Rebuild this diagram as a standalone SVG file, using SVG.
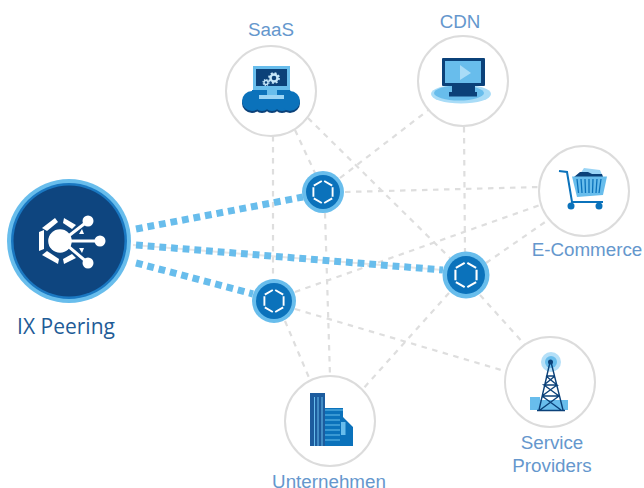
<svg xmlns="http://www.w3.org/2000/svg" width="644" height="488" viewBox="0 0 644 488">
<style>
.ring{fill:#fff;stroke:#dcdcdc;stroke-width:2}
.dash{fill:none;stroke:#dedede;stroke-width:2.2;stroke-dasharray:5.500 5.500}
.thick{fill:none;stroke:#68bdec;stroke-width:7;stroke-dasharray:6.800 4.900}
.under{fill:none;stroke:#e6e6e6;stroke-width:2}
.lab{font-family:"Liberation Sans",Arial,sans-serif;font-size:18.8px;fill:#6597cd;text-anchor:middle}
.ix{font-family:"Open Sans","Noto Sans",sans-serif;font-size:21px;fill:#1f5c97;text-anchor:middle}
.hubo{fill:#68bdec}.hubi{fill:#0b72bb}
.hex{fill:none;stroke:#fff;stroke-width:1.900}
.dark{fill:#0b4179}.mid{fill:#0b72bb}.light{fill:#68bdec}
.gear{fill:none;stroke:#c5e6f9}
</style>
<defs>
<g id="hexicon">
<path class="hex" d="M-1.200 -11L-9.200 -6.400M1.200 -11L9.200 -6.400M9.600 -4.800V4.800M9.200 6.400L1.200 11M-1.200 11L-9.200 6.400M-9.600 4.800V-4.800"/>
</g>
<g id="cloud">
<circle cx="252" cy="101" r="10"/><circle cx="262" cy="103" r="8"/><circle cx="272" cy="103" r="8"/><circle cx="282" cy="103" r="8"/><circle cx="290" cy="101" r="10"/>
<circle cx="258" cy="94" r="6.500"/><circle cx="285" cy="94" r="6.500"/><rect x="252" y="90" width="38" height="18"/>
</g>
</defs>
<g id="connectors">
<path class="dash" d="M273 136V280"/>
<path class="dash" d="M295 130L315 173"/>
<path class="dash" d="M308 118L450 258"/>
<path class="dash" d="M340 178L431 108"/>
<path class="dash" d="M345 192L540 187"/>
<path class="dash" d="M325 213L330 376"/>
<path class="dash" d="M464 127L465 252"/>
<path class="dash" d="M486 263L548 220"/>
<path class="dash" d="M295 292L540 205"/>
<path class="dash" d="M480 295L526 346"/>
<path class="dash" d="M449 293L362 390"/>
<path class="dash" d="M285 321L310 380"/>
<path class="dash" d="M295 309L508 372"/>
<path class="under" d="M133 245L443 270"/>
<path class="thick" d="M136 229L303 197"/>
<path class="thick" d="M136 245L443 270"/>
<path class="thick" d="M136 263L253 294"/>
</g>
<g id="ix-peering">
<circle cx="69" cy="241" r="62" fill="#68bdec"/>
<circle cx="69" cy="241" r="58" fill="#1a78c2"/>
<circle cx="69" cy="241" r="55.500" fill="#0e457f"/>
<circle cx="60" cy="241" r="11.800" fill="#fff"/>
<g stroke="#fff" stroke-width="3" fill="none"><path d="M62 241L88 221M62 241H100M62 241L88 263"/></g>
<g fill="#fff">
<circle cx="88" cy="221" r="5.500"/><circle cx="100" cy="241" r="5.500"/><circle cx="88" cy="263" r="5.500"/>
<path d="M39 232L44 230V249L39 251Z"/>
<path d="M42 228L55 218L58 222L47 231Z"/>
<path d="M64 218L76 225L72 229L63 223Z"/>
<path d="M42 255L47 251L59 259L58 264Z"/>
<path d="M64 264L63 259L72 254L76 258Z"/>
<path d="M79 234L84 234L82 229Z"/><path d="M79 248L84 248L82 253Z"/>
</g>
<text class="ix" x="66" y="334">IX Peering</text>
</g>
<g id="saas">
<circle class="ring" cx="271" cy="91" r="45"/>
<use href="#cloud" class="dark" y="2"/>
<use href="#cloud" class="mid"/>
<rect class="light" x="253" y="66" width="37" height="24"/>
<rect class="dark" x="256" y="69" width="31" height="17"/>
<rect class="light" x="267" y="90" width="10" height="5"/>
<rect fill="#9ad4f5" x="259" y="95" width="25" height="4"/>
<circle class="gear" cx="274" cy="78" r="3.500" stroke-width="2.400"/>
<circle class="gear" cx="274" cy="78" r="5" stroke-width="1.800" stroke-dasharray="2 1.930"/>
<circle class="gear" cx="266" cy="82.500" r="2" stroke-width="1.400"/>
<circle class="gear" cx="266" cy="82.500" r="3" stroke-width="1.200" stroke-dasharray="1.300 1.050"/>
<text class="lab" x="271" y="36">SaaS</text>
</g>
<g id="cdn">
<circle class="ring" cx="463" cy="81" r="45"/>
<ellipse cx="461" cy="94" rx="30" ry="9.500" fill="#a9dcf7"/>
<ellipse cx="459" cy="93" rx="25" ry="7.500" class="light"/>
<rect class="dark" x="442" y="58" width="43" height="28" rx="1"/>
<rect class="light" x="445" y="61" width="36" height="22"/>
<path fill="#a9dcf7" d="M460 65L471 73L460 80Z"/>
<rect class="dark" x="452" y="86" width="23" height="6"/>
<rect class="dark" x="449" y="92" width="28" height="4.500"/>
<text class="lab" x="460" y="28">CDN</text>
</g>
<g id="e-commerce">
<circle class="ring" cx="584" cy="191" r="45"/>
<path fill="#9ad4f5" d="M578 177L584 168L600 170L603 177Z"/>
<path class="dark" d="M574 177L580 172H588L592 174H602L603 177Z"/>
<path class="light" d="M572 176.500H607L603 195L577 197Z"/>
<path d="M577 179L578.500 193M581 179L582 193M585 179L585.500 193M589 179V193M593 179L592.500 193M597 179L596 193M601 179L599 193" stroke="#0b72bb" stroke-width="1.300" fill="none"/>
<path d="M559 171L567 172L572 202H603" stroke="#0b72bb" stroke-width="2" fill="none"/>
<circle class="mid" cx="571" cy="206" r="3.500"/><circle class="mid" cx="599" cy="206" r="3.500"/>
<text class="lab" x="587" y="256">E-Commerce</text>
</g>
<g id="service-providers">
<circle class="ring" cx="550" cy="382" r="45"/>
<circle cx="551" cy="362" r="10" fill="#b5e0f8"/>
<circle cx="551" cy="362" r="6" class="light"/>
<path class="light" d="M530 397H540V400H568V410H530Z"/>
<circle cx="550.500" cy="362" r="2.500" class="dark"/>
<path d="M550 362L539 410M551 362L563 410M537 410.500H565M546 376H555M544 385H557M542 396H559M546 376L557 385L544 385L559 396M555 376L544 385M557 385L542 396M542 396L561 410M559 396L540 410" stroke="#0b4179" stroke-width="1.400" fill="none"/>
<text class="lab" x="552" y="449">Service</text>
<text class="lab" x="552" y="472">Providers</text>
</g>
<g id="unternehmen">
<circle class="ring" cx="330" cy="421" r="45"/>
<path class="mid" d="M325 408H343V417L353 427V446H325Z"/>
<rect x="310" y="393" width="15" height="53" fill="#1d5c9e"/>
<path d="M314.500 397V446M318 397V446M322 397V446" stroke="#68bdec" stroke-width="1" fill="none"/>
<path d="M325 410H343M325 415H340M325 420H340M325 425H340M325 430H340M325 435H340M325 440H340" stroke="#68bdec" stroke-width="1.200" fill="none"/>
<rect class="light" x="341" y="422" width="4.500" height="13"/>
<text class="lab" x="329" y="487.500">Unternehmen</text>
</g>
<g id="hub-1">
<circle class="hubo" cx="323" cy="192" r="21"/><circle class="hubi" cx="323" cy="192" r="17"/>
<use href="#hexicon" x="323" y="192"/>
</g>
<g id="hub-2">
<circle class="hubo" cx="466" cy="275" r="23.500"/><circle class="hubi" cx="466" cy="275" r="19"/>
<use href="#hexicon" transform="translate(466 275) scale(1.100)"/>
</g>
<g id="hub-3">
<circle class="hubo" cx="274" cy="301" r="22"/><circle class="hubi" cx="274" cy="301" r="18"/>
<use href="#hexicon" x="274" y="301"/>
</g>
</svg>
